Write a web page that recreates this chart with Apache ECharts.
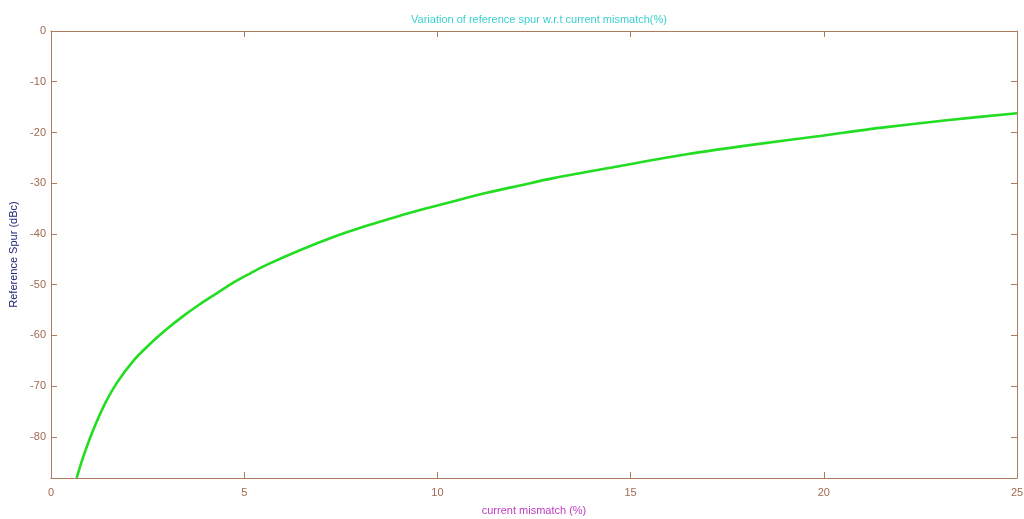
<!DOCTYPE html>
<html>
<head>
<meta charset="utf-8">
<script src="https://cdn.jsdelivr.net/npm/echarts@6/dist/echarts.min.js"></script>
<style>html,body{margin:0;padding:0;background:#fff}#c{width:1024px;height:519px}</style>
</head>
<body>
<div id="c"></div>
<script>
var mismatch = [0.665, 0.836, 1.095, 1.40, 1.70, 2.13, 2.56, 2.99, 3.42, 3.86, 4.29, 4.72, 5.15, 5.58, 6.44, 7.31, 8.17, 9.03, 9.55, 10.3, 11.28, 12.1, 13.0, 14.73, 16.45, 18.18, 19.9, 21.45, 23.18, 25];
var spur = [-88.1, -83.9, -78.6, -73.4, -69.4, -65.0, -61.7, -58.8, -56.2, -53.8, -51.7, -49.6, -47.8, -46.1, -43.2, -40.6, -38.4, -36.4, -35.3, -33.8, -31.9, -30.5, -29.0, -26.6, -24.3, -22.4, -20.7, -19.1, -17.6, -16.2];
var xTicks = [0, 5, 10, 15, 20, 25];
var yTicks = [0, -10, -20, -30, -40, -50, -60, -70, -80];

var axisCol = '#b07a5c';
var labCol = '#a06a50';
var font = 'Liberation Sans, Arial, sans-serif';
var chart = echarts.init(document.getElementById('c'));
var pts = mismatch.map(function (x, i) { return [x, spur[i]]; });
var baseX = {
  type: 'value', min: 0, max: 25, interval: 5,
  axisLine: { show: true, onZero: false, lineStyle: { color: axisCol, width: 1 } },
  axisTick: { show: true, inside: true, length: 6, lineStyle: { color: axisCol } },
  splitLine: { show: false }
};
var baseY = {
  type: 'value', min: spur[0], max: 0,
  axisLine: { show: true, onZero: false, lineStyle: { color: axisCol, width: 1 } },
  axisTick: { show: true, inside: true, length: 6, customValues: yTicks, lineStyle: { color: axisCol } },
  splitLine: { show: false }
};
chart.setOption({
  animation: false,
  title: {
    text: 'Variation of reference spur w.r.t current mismatch(%)',
    left: 534, top: 9, textAlign: 'center',
    textStyle: { color: '#3ccfcf', fontSize: 11, fontWeight: 'normal', fontFamily: font }
  },
  grid: { left: 51, right: 7, top: 31, bottom: 41, outerBoundsMode: 'none' },
  xAxis: [
    Object.assign({}, baseX, {
      position: 'bottom',
      name: 'current mismatch (%)', nameLocation: 'middle', nameGap: 27,
      nameTextStyle: { color: '#c03cc0', fontSize: 11, fontFamily: font },
      axisLabel: { show: true, color: labCol, fontSize: 11, margin: 9, fontFamily: font, customValues: xTicks }
    }),
    Object.assign({}, baseX, { position: 'top', axisLabel: { show: false } })
  ],
  yAxis: [
    Object.assign({}, baseY, {
      position: 'left',
      name: 'Reference Spur (dBc)', nameLocation: 'middle', nameGap: 28,
      nameTextStyle: { color: '#20207a', fontSize: 11, fontFamily: font },
      axisLabel: { show: true, color: labCol, fontSize: 11, margin: 5, fontFamily: font, customValues: yTicks }
    }),
    Object.assign({}, baseY, { position: 'right', axisLabel: { show: false } })
  ],
  series: [{
    type: 'line', data: pts, smooth: 0.3, showSymbol: false,
    xAxisIndex: 0, yAxisIndex: 0,
    lineStyle: { color: '#22dd22', width: 2.6 }
  }]
});
</script>
</body>
</html>
